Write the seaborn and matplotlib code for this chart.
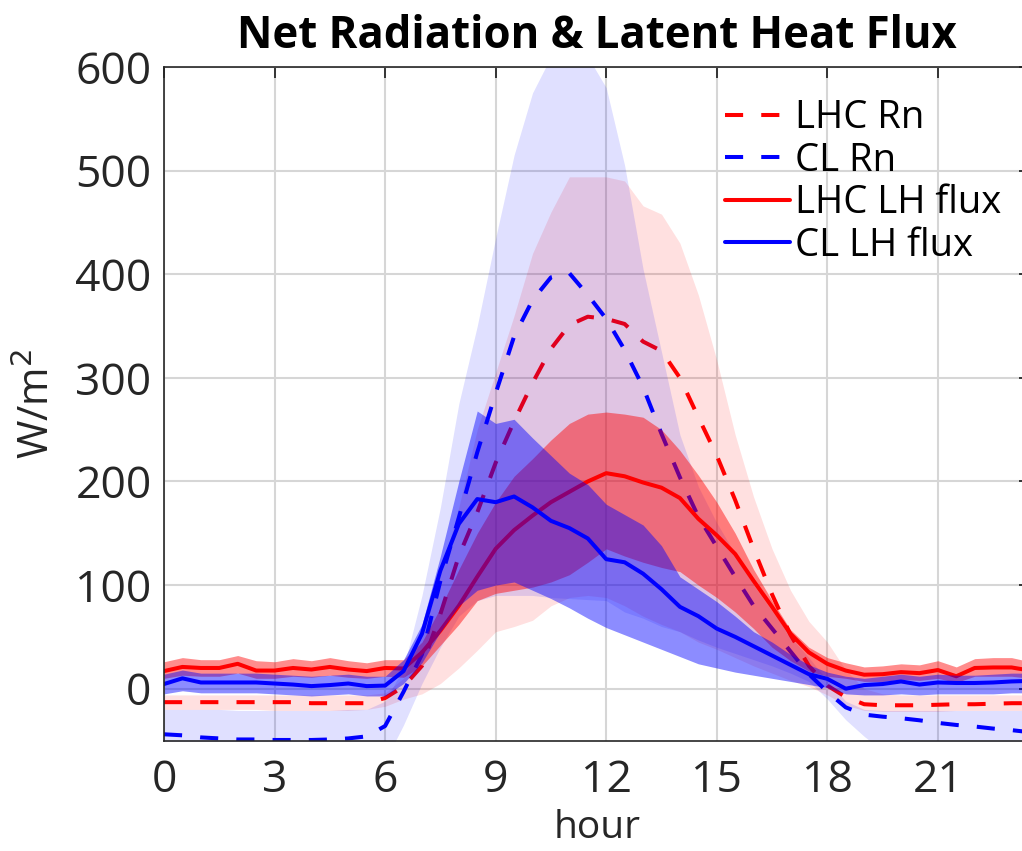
import numpy as np
import pandas as pd
import matplotlib
matplotlib.use("Agg")
import matplotlib.pyplot as plt
import seaborn as sns

# ---------------- data (half-hourly, 0 .. 23.5 h) ----------------
hours = np.arange(0, 24, 0.5)

lhc_rn = [-13, -13, -13, -13, -13, -13, -13, -13, -14, -14, -14, -14,
          -9, 2, 22, 72, 128, 170, 218, 258, 295, 328, 351, 359,
          357, 352, 335, 326, 300, 262, 225, 182, 135, 91, 52, 22,
          3, -8, -15, -16, -16, -16, -15.5, -15, -15, -14.5, -14, -14]
lhc_rn_hi = [-6, -6, -6, -6, -6, -6, -6, -6, -6, -6, -6, -6,
             -4, 10, 50, 110, 175, 250, 305, 360, 420, 460, 494, 494,
             494, 490, 466, 458, 430, 380, 317, 245, 185, 135, 95, 65,
             45, 18, 0, -5, -6, -6, -6, -6, -6, -6, -6, -6]
lhc_rn_lo = [-20, -20, -20, -20, -20, -20, -21, -21, -21, -21, -21, -20,
             -17, -10, -5, 5, 20, 37, 55, 60, 66, 80, 88, 90,
             88, 80, 70, 62, 55, 45, 38, 30, 22, 15, 8, 2,
             -6, -16, -21, -22, -22, -22, -22, -21, -21, -21, -21, -21]

cl_rn = [-44, -45, -47, -48, -49, -49, -49.5, -49.5, -49.5, -49, -48, -46,
         -36, -3, 33, 104, 165, 228, 285, 340, 375, 397, 401, 380,
         357, 327, 291, 246, 204, 166, 137, 108, 80, 58, 36, 14,
         -3, -18, -25, -27, -28.5, -30.5, -33, -35, -36.5, -38.5, -40, -42]
cl_rn_hi = [-20, -20, -20, -20, -21, -21, -21, -21, -21, -21, -20, -20,
            -12, 20, 90, 175, 275, 350, 435, 515, 575, 610, 625, 610,
            580, 505, 405, 325, 245, 195, 160, 130, 100, 75, 50, 30,
            8, -12, -20, -21, -21, -21, -21, -21, -21, -21, -21, -21]
cl_rn_lo = [-85, -86, -88, -88, -89, -89, -89, -89, -89, -88, -86, -80,
            -70, -35, 5, 40, 70, 85, 90, 90, 90, 88, 87, 86,
            85, 74, 68, 60, 55, 47, 40, 34, 28, 22, 15, 7,
            -10, -30, -46, -60, -65, -68, -70, -72, -74, -76, -78, -80]

lhc_lh = [17, 21, 20, 20, 24, 17.5, 17.5, 20, 18.5, 21, 18.5, 17,
          20, 19.5, 35, 56, 80, 108, 135, 153, 167, 180, 190, 200,
          208, 205, 199, 194, 184, 164, 148, 130, 104, 79, 53, 35,
          24, 17.5, 13.5, 14, 16, 15, 18, 12, 20, 20.5, 20.5, 17.5]
lhc_lh_hi = [26, 30, 28, 28, 32, 27, 26, 29, 27, 30, 27, 25,
             28, 28, 45, 78, 115, 150, 180, 205, 222, 240, 256, 265,
             267, 265, 262, 250, 230, 206, 180, 150, 115, 85, 57, 40,
             30, 25, 21, 22, 24, 23, 27, 21, 29, 30, 30, 26]
lhc_lh_lo = [10, 13, 12, 12, 15, 10, 10, 12, 11, 13, 11, 10,
             12, 11, 22, 42, 62, 85, 92, 95, 98, 103, 110, 122,
             135, 128, 122, 117, 113, 100, 88, 74, 58, 40, 27, 17,
             12, 10, 7, 7, 9, 8, 10, 6, 12, 12, 12, 10]

cl_lh = [4.5, 10, 6, 6, 6, 6, 5, 4, 2.5, 3.5, 5, 2.5,
         3, 17, 53, 114, 159, 183, 180, 185.5, 175, 162, 155, 145,
         125, 122, 111, 96, 79, 70, 58, 50, 41, 32, 23, 14,
         9.5, 0, 3.5, 4.5, 7, 4, 6, 5.5, 5.5, 6, 7, 7.5]
cl_lh_hi = [14, 18, 15, 15, 15, 15, 14, 13, 12, 13, 14, 12,
            12, 28, 62, 128, 200, 268, 256, 260, 242, 225, 208, 197,
            178, 168, 158, 138, 108, 96, 84, 70, 55, 45, 33, 23,
            16, 12, 10, 12, 14, 12, 14, 13, 13, 14, 15, 15]
cl_lh_lo = [-5, -2, -4, -4, -4, -4, -5, -6, -7, -6, -5, -7,
            -7, 5, 25, 55, 80, 95, 100, 103, 95, 87, 78, 68,
            59, 52, 45, 38, 31, 24, 20, 16, 13, 10, 7, 4,
            1, -5, -6, -6, -5, -6, -5, -5, -5, -5, -4, -4]

labels = ["LHC Rn", "CL Rn", "LHC LH flux", "CL LH flux"]
x_ticks = [0, 3, 6, 9, 12, 15, 18, 21]
y_ticks = [0, 100, 200, 300, 400, 500, 600]

# ---------------- styling ----------------
sns.set_theme(style="white")
FONT = ["Open Sans", "DejaVu Sans"]
plt.rcParams["font.family"] = FONT
plt.rcParams["axes.edgecolor"] = "#262626"
plt.rcParams["axes.linewidth"] = 1.2

fig = plt.figure(figsize=(10.22, 8.51), dpi=100)
ax = fig.add_axes([164 / 1022, 1 - 740.5 / 851, 866 / 1022, 673.5 / 851])

series = [
    ("LHC Rn", lhc_rn, lhc_rn_lo, lhc_rn_hi, "#ff0000", 0.12, (4.5, 4.5)),
    ("CL Rn", cl_rn, cl_rn_lo, cl_rn_hi, "#0000ff", 0.12, (4.5, 4.5)),
    ("LHC LH flux", lhc_lh, lhc_lh_lo, lhc_lh_hi, "#ff0000", 0.45, ""),
    ("CL LH flux", cl_lh, cl_lh_lo, cl_lh_hi, "#0000ff", 0.45, ""),
]

handles = []
z = 2
for name, mean, lo, hi, col, alpha, dash in series:
    ax.fill_between(hours, lo, hi, color=col, alpha=alpha, lw=0, zorder=z)
    df = pd.DataFrame({"hour": hours, "value": mean})
    n_before = len(ax.lines)
    sns.lineplot(data=df, x="hour", y="value", ax=ax, color=col, lw=2.9,
                 zorder=z + 1, label=name)
    line = ax.lines[n_before]
    if dash:
        line.set_dashes(dash)
    handles.append(line)
    z += 2

ax.set_xlim(0, 23.5)
ax.set_ylim(-50, 600)
ax.set_xticks(x_ticks)
ax.set_yticks(y_ticks)
ax.grid(True, color="#d6d6d6", lw=1.5, zorder=0)
ax.set_axisbelow(True)
for s in ax.spines.values():
    s.set_visible(True)
    s.set_zorder(20)
ax.tick_params(direction="in", length=8, width=1.3, color="#262626",
               top=True, right=True, labelsize=32, labelcolor="#262626")
ax.tick_params(axis="x", pad=13)
ax.tick_params(axis="y", pad=9)

ax.set_xlabel("hour", fontsize=28, color="#262626", labelpad=4)
ax.set_ylabel("W/m$^2$", fontsize=30, color="#262626", labelpad=12)
ax.set_title("Net Radiation & Latent Heat Flux", fontsize=31.5,
             fontweight="bold", color="black", pad=14)

leg = ax.legend(handles=handles, labels=labels, loc="upper right",
                bbox_to_anchor=(0.985, 0.975), frameon=False, fontsize=27.5,
                handlelength=1.7, handletextpad=0.15, labelspacing=0.12,
                borderaxespad=0.0)
for t in leg.get_texts():
    t.set_color("black")

fig.savefig("out.png", dpi=100)
